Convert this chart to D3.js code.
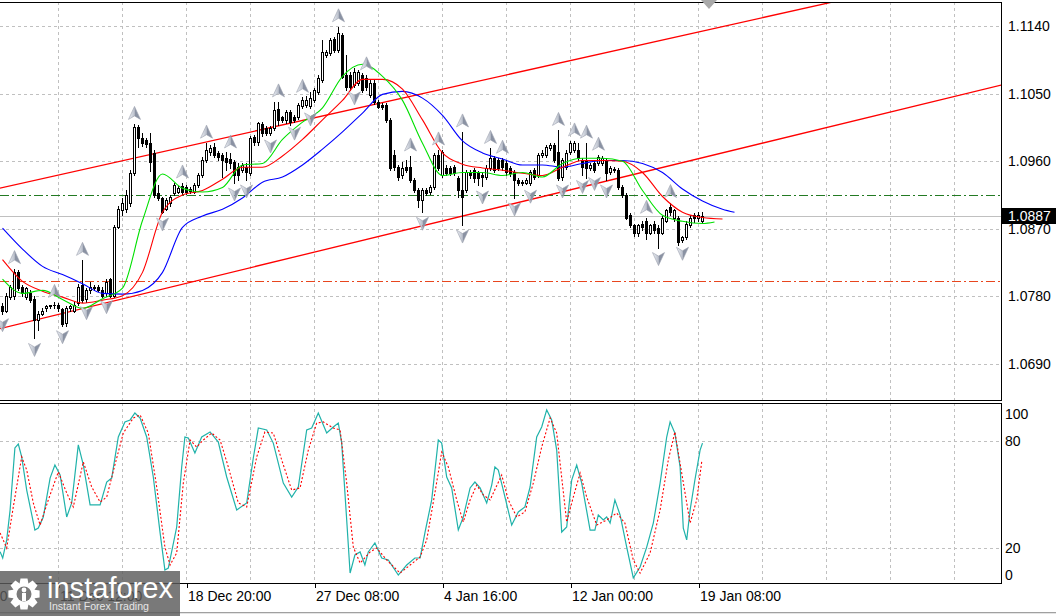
<!DOCTYPE html>
<html><head><meta charset="utf-8">
<script src="https://cdn.jsdelivr.net/npm/d3@7"></script>
<style>
html,body{margin:0;padding:0;background:#fff;overflow:hidden}
svg{display:block}
text{font-family:"Liberation Sans",Arial,sans-serif}
</style></head><body>
<svg id="c" width="1056" height="616"></svg>
<script>
// ---------- DATA ----------
const opens=[1.0767,1.0761,1.0779,1.0780,1.0812,1.0792,1.0779,1.0784,1.0777,1.0748,
1.0757,1.0764,1.0767,1.0768,1.0769,1.0763,1.0744,1.0764,1.0761,1.0771,
1.0795,1.0776,1.0788,1.0792,1.0792,1.0789,1.0784,1.0803,1.0781,1.0873,
1.0895,1.0897,1.0904,1.0944,1.1005,1.0991,1.0988,1.0984,1.0971,1.0917,
1.0911,1.0897,1.0904,1.0917,1.0919,1.0927,1.0925,1.0920,1.0919,1.0928,
1.0941,1.0961,1.0972,1.0979,1.0971,1.0968,1.0964,1.0963,1.0959,1.0952,
1.0948,1.0952,1.0944,1.0992,1.0985,1.1009,1.1004,1.0997,1.1004,1.1029,
1.1019,1.1015,1.1025,1.1019,1.1019,1.1033,1.1035,1.1033,1.1041,1.1052,
1.1068,1.1101,1.1104,1.1123,1.1108,1.1128,1.1075,1.1075,1.1061,1.1064,
1.1075,1.1071,1.1048,1.1064,1.1039,1.1035,1.1035,1.1015,1.0968,1.0952,
1.0941,1.0952,1.0952,1.0935,1.0921,1.0908,1.0921,1.0919,1.0925,1.0968,
1.0941,1.0951,1.0951,1.0952,1.0937,1.0921,1.0921,1.0945,1.0948,1.0944,
1.0941,1.0939,1.0951,1.0964,1.0961,1.0961,1.0957,1.0951,1.0945,1.0935,
1.0932,1.0931,1.0931,1.0948,1.0941,1.0968,1.0968,1.0977,1.0981,1.0972,
1.0939,1.0952,1.0972,1.0975,1.0975,1.0961,1.0961,1.0951,1.0957,1.0957,
1.0957,1.0961,1.0945,1.0949,1.0948,1.0925,1.0915,1.0888,1.0875,1.0864,
1.0877,1.0881,1.0865,1.0877,1.0871,1.0865,1.0881,1.0899,1.0884,1.0884,
1.0855,1.0859,1.0875,1.0888,1.0884,1.0881];
const highs=[1.0771,1.0784,1.0795,1.0817,1.0815,1.0795,1.0793,1.0788,1.0780,1.0761,
1.0764,1.0769,1.0769,1.0772,1.0771,1.0765,1.0767,1.0769,1.0772,1.0796,
1.0828,1.0791,1.0799,1.0795,1.0795,1.0792,1.0803,1.0805,1.0875,1.0901,
1.0911,1.0921,1.0948,1.1009,1.1008,1.0997,1.0991,1.0997,1.0975,1.0928,
1.0913,1.0911,1.0915,1.0931,1.0927,1.0931,1.0928,1.0925,1.0931,1.0944,
1.0965,1.0984,1.0981,1.0984,1.0973,1.0971,1.0972,1.0971,1.0961,1.0957,
1.0957,1.0957,1.0993,1.0995,1.1012,1.1012,1.1007,1.1007,1.1039,1.1039,
1.1020,1.1028,1.1028,1.1021,1.1037,1.1045,1.1047,1.1052,1.1057,1.1075,
1.1121,1.1108,1.1124,1.1125,1.1139,1.1131,1.1101,1.1079,1.1084,1.1081,
1.1077,1.1075,1.1068,1.1068,1.1041,1.1037,1.1037,1.1017,1.0975,1.0955,
1.0959,1.0961,1.0967,1.0937,1.0924,1.0924,1.0924,1.0928,1.0971,1.0975,
1.0975,1.0955,1.0953,1.0955,1.0940,1.0999,1.0948,1.0948,1.0951,1.0947,
1.0944,1.0955,1.0977,1.0967,1.0964,1.0964,1.0961,1.0953,1.0948,1.0937,
1.0935,1.0937,1.0948,1.0951,1.0971,1.0975,1.0981,1.0984,1.0984,1.1001,
1.0964,1.0975,1.0987,1.0987,1.0984,1.0964,1.0984,1.0957,1.0960,1.0968,
1.0967,1.0964,1.0953,1.0952,1.0951,1.0928,1.0917,1.0891,1.0877,1.0877,
1.0880,1.0884,1.0877,1.0880,1.0875,1.0887,1.0897,1.0905,1.0897,1.0887,
1.0861,1.0880,1.0888,1.0891,1.0892,1.0893];
const lows=[1.0757,1.0759,1.0776,1.0777,1.0788,1.0781,1.0776,1.0772,1.0724,1.0735,
1.0755,1.0761,1.0764,1.0765,1.0761,1.0741,1.0741,1.0761,1.0759,1.0768,
1.0772,1.0773,1.0785,1.0788,1.0787,1.0779,1.0781,1.0779,1.0779,1.0871,
1.0888,1.0892,1.0900,1.0941,1.0979,1.0980,1.0979,1.0947,1.0912,1.0908,
1.0891,1.0895,1.0901,1.0915,1.0917,1.0916,1.0916,1.0917,1.0917,1.0925,
1.0939,1.0959,1.0968,1.0965,1.0961,1.0939,1.0948,1.0951,1.0931,1.0935,
1.0945,1.0935,1.0941,1.0981,1.0981,1.0993,1.0995,1.0995,1.1001,1.1008,
1.1012,1.1011,1.1008,1.1012,1.1016,1.1031,1.1032,1.1031,1.1039,1.1049,
1.1065,1.1099,1.1101,1.1105,1.1105,1.1071,1.1055,1.1055,1.1059,1.1061,
1.1052,1.1055,1.1045,1.1036,1.1031,1.1029,1.1012,1.0948,1.0948,1.0935,
1.0937,1.0945,1.0932,1.0919,1.0899,1.0892,1.0915,1.0916,1.0923,1.0948,
1.0939,1.0941,1.0941,1.0941,1.0912,1.0875,1.0919,1.0937,1.0932,1.0928,
1.0927,1.0936,1.0948,1.0945,1.0948,1.0948,1.0941,1.0940,1.0911,1.0928,
1.0928,1.0929,1.0928,1.0936,1.0939,1.0965,1.0965,1.0975,1.0959,1.0935,
1.0935,1.0949,1.0969,1.0972,1.0961,1.0941,1.0937,1.0948,1.0945,1.0955,
1.0955,1.0935,1.0943,1.0945,1.0923,1.0912,1.0883,1.0872,1.0861,1.0861,
1.0869,1.0857,1.0863,1.0865,1.0845,1.0863,1.0879,1.0889,1.0881,1.0848,
1.0852,1.0856,1.0872,1.0879,1.0881,1.0879];
const closes=[1.0761,1.0780,1.0792,1.0813,1.0791,1.0785,1.0791,1.0775,1.0748,1.0757,
1.0761,1.0767,1.0768,1.0769,1.0764,1.0743,1.0764,1.0767,1.0769,1.0793,
1.0775,1.0788,1.0793,1.0791,1.0789,1.0781,1.0799,1.0781,1.0872,1.0896,
1.0904,1.0915,1.0944,1.1005,1.0991,1.0984,1.0983,1.0959,1.0915,1.0911,
1.0892,1.0908,1.0912,1.0928,1.0924,1.0919,1.0919,1.0923,1.0928,1.0941,
1.0961,1.0975,1.0977,1.0968,1.0965,1.0961,1.0959,1.0957,1.0941,1.0941,
1.0955,1.0945,1.0991,1.0985,1.1011,1.0997,1.0997,1.1004,1.1028,1.1015,
1.1015,1.1025,1.1012,1.1015,1.1035,1.1041,1.1041,1.1044,1.1055,1.1071,
1.1105,1.1105,1.1121,1.1108,1.1131,1.1072,1.1059,1.1059,1.1079,1.1079,
1.1055,1.1059,1.1064,1.1039,1.1032,1.1032,1.1015,1.0951,1.0952,1.0939,
1.0951,1.0948,1.0935,1.0921,1.0908,1.0921,1.0917,1.0925,1.0968,1.0951,
1.0972,1.0944,1.0944,1.0944,1.0921,1.0912,1.0945,1.0941,1.0937,1.0937,
1.0939,1.0951,1.0964,1.0948,1.0951,1.0952,1.0945,1.0944,1.0935,1.0931,
1.0931,1.0935,1.0945,1.0939,1.0968,1.0971,1.0979,1.0981,1.0961,1.0937,
1.0961,1.0971,1.0984,1.0984,1.0964,1.0952,1.0951,1.0955,1.0948,1.0965,
1.0964,1.0944,1.0951,1.0948,1.0925,1.0915,1.0885,1.0875,1.0864,1.0875,
1.0872,1.0864,1.0875,1.0868,1.0864,1.0884,1.0895,1.0892,1.0895,1.0852,
1.0859,1.0877,1.0885,1.0884,1.0888,1.0887];

// Alligator lines [bar, price]
const jawLine=[[0,1.0871],[5,1.0843],[10,1.0820],[15,1.0809],[20,1.0797],[25,1.0784],[30,1.0783],[35,1.0788],[40,1.0812],[45,1.0872],[50,1.0887],[55,1.0896],[60,1.0911],[65,1.0932],[70,1.0939],[75,1.0955],[80,1.0976],[85,1.0999],[90,1.1024],[95,1.1049],[100,1.1053],[105,1.1044],[110,1.1021],[115,1.0987],[120,1.0971],[125,1.0963],[130,1.0955],[135,1.0955],[140,1.0952],[145,1.0957],[150,1.0961],[155,1.0961],[160,1.0957],[165,1.0945],[170,1.0923],[175,1.0907],[180,1.0896],[183,1.0892]];
const teethLine=[[0,1.0829],[5,1.0800],[10,1.0787],[15,1.0779],[20,1.0771],[25,1.0775],[30,1.0781],[35,1.0812],[40,1.0892],[45,1.0915],[50,1.0921],[55,1.0936],[60,1.0952],[65,1.0952],[70,1.0967],[75,1.0989],[80,1.1015],[85,1.1041],[90,1.1069],[95,1.1069],[100,1.1056],[105,1.1015],[110,1.0971],[115,1.0956],[120,1.0951],[125,1.0948],[130,1.0944],[135,1.0941],[140,1.0952],[145,1.0961],[150,1.0961],[155,1.0960],[160,1.0945],[165,1.0913],[170,1.0892],[175,1.0885],[180,1.0883]];
const lipsLine=[[0,1.0803],[5,1.0784],[10,1.0788],[15,1.0776],[20,1.0764],[25,1.0777],[30,1.0791],[35,1.0881],[40,1.0943],[45,1.0924],[50,1.0919],[55,1.0925],[60,1.0955],[65,1.0957],[70,1.0989],[75,1.1012],[80,1.1031],[85,1.1073],[90,1.1089],[95,1.1073],[100,1.1041],[105,1.0984],[110,1.0941],[115,1.0945],[120,1.0945],[125,1.0941],[130,1.0945],[135,1.0939],[140,1.0957],[145,1.0964],[150,1.0964],[155,1.0960],[160,1.0921],[165,1.0888],[170,1.0880],[175,1.0877],[178,1.0879]];

// Trend channel anchors [bar, price]
const channelUpper=[[0,1.0925],[200,1.1163]];
const channelLower=[[0,1.0738],[200,1.0997]];
const levelGreen=1.0915, levelRed=1.0800, lastPrice=1.0887;

// Fractals (bar indices)
const upFractals=[3,13,20,33,45,51,57,69,75,84,91,102,109,115,122,125,139,143,146,149,161,167];
const downFractals=[0,8,15,21,26,40,58,61,67,73,77,88,105,115,120,128,132,140,145,148,151,164,170];

// Stochastic [bar, value]
const stochMain=[[-0.6,18.1],[0.05,14.6],[1.05,24.7],[1.9,41.4],[3.1,76],[3.95,78.2],[4.8,71],[6.05,52.5],[8.1,30.2],[8.95,31.3],[10.2,37.5],[11.9,59.2],[13.1,66.5],[14.4,60.9],[16.05,37.5],[17.3,45.3],[18.95,77.7],[20.2,66.5],[21.9,44.2],[24.4,44.2],[26.05,57],[27.3,59.2],[28.95,82.1],[30.6,90.5],[31.9,91.6],[33.1,95.5],[34.4,92.7],[36.05,82.1],[37.7,59.8],[39.4,28.6],[40.6,7.9],[41.45,9],[43.55,31.9],[44.8,65.4],[45.6,82.1],[46.45,81.5],[48.1,73.2],[49.8,82.1],[51.9,84.9],[53.95,79.3],[56.05,59.8],[58.55,41.4],[61.05,45.3],[62.7,70.4],[63.95,87.1],[66.05,86],[67.7,78.7],[70.2,56.4],[72.3,48.6],[73.95,54.2],[76.05,86],[77.3,87.1],[78.95,95.5],[81.05,84.3],[82.7,87.7],[83.95,89.9],[84.8,78.7],[86.05,35.8],[86.9,6.2],[88.1,16.3],[89.4,18],[90.6,10.7],[91.45,18],[93.1,23],[94.8,14.6],[96.45,13.5],[98.95,5.1],[101.05,10.7],[103.1,14.6],[104.4,14.6],[105.6,28.6],[107.3,47],[108.95,80.4],[109.8,78.7],[111.05,59.8],[112.3,53.7],[113.95,30.2],[115.2,37.5],[116.9,53.7],[118.1,57],[119.4,53.7],[121.05,45.3],[122.3,55.3],[123.1,65.4],[123.95,63.7],[125.2,52.5],[127.3,33],[128.95,40.3],[130.6,43.1],[131.9,54.2],[133.55,82.1],[134.8,87.7],[136.05,97.2],[137.3,91.6],[138.55,74.8],[139.8,29.1],[141.05,31.9],[142.3,58.1],[143.55,66.5],[144.8,56.4],[146.9,30.2],[148.1,30.2],[148.95,38.6],[150.2,35.8],[151.05,37.5],[151.9,34.1],[153.1,47],[154.4,38.6],[156.05,20.7],[157.7,3.5],[159.4,9.6],[161.05,20.7],[162.7,34.1],[164.4,56.4],[166.05,82.1],[166.9,90.5],[168.1,84.3],[169.4,65.4],[170.2,31.3],[171.05,24.7],[171.9,41.4],[173.1,58.1],[174.4,74.8],[175,78.7]];
const stochSignal=[[-0.6,28.6],[1.05,20.2],[2.7,43.1],[4.8,71],[6.05,63.7],[7.7,45.3],[9.4,33],[11.45,47],[13.95,62.6],[16.05,50.9],[17.7,43.1],[20.2,68.2],[22.3,54.2],[24.4,45.8],[26.05,48.6],[28.1,66.5],[30.2,84.3],[32.7,92.7],[34.4,94.4],[36.45,84.3],[38.55,54.2],[40.6,20.7],[41.9,10.7],[43.55,17.4],[45.2,56.4],[46.9,80.4],[48.55,76.5],[50.2,80.4],[52.3,84.3],[54.4,80.4],[56.45,65.4],[58.95,45.3],[61.05,43.1],[63.55,71],[65.6,84.9],[67.7,84.3],[69.8,69.3],[72.3,52.5],[74.4,53.7],[76.45,74.8],[78.55,89.9],[80.2,90.5],[82.7,87.1],[84.4,86],[86.05,56.4],[87.7,20.7],[89.4,11.8],[91.9,18],[93.55,20.2],[96.05,13.5],[99.4,6.2],[101.9,10.7],[104.4,15.2],[106.05,24.7],[108.1,50.9],[109.8,73.7],[111.45,65.4],[113.55,47],[115.2,34.7],[116.9,47],[118.55,55.3],[120.2,49.8],[121.9,47],[124.8,60.9],[126.45,47],[128.55,37.5],[130.6,40.3],[132.7,56.4],[134.8,76.5],[136.9,92.7],[138.55,84.3],[141.05,34.7],[142.7,48.6],[144.4,62],[146.05,48.6],[148.55,33],[151.05,35.8],[153.55,39.7],[155.6,34.1],[157.7,13.5],[159.4,6.2],[161.9,17.4],[164.4,41.4],[166.45,69.3],[168.1,84.9],[169.8,62],[171.9,34.1],[173.55,47],[174.8,68.2]];

// Axes
const priceTicks=[1.1140,1.1050,1.0960,1.0870,1.0780,1.0690];
const stochTicks=[100,80,20,0];
const stochGrid=[80,20];
const timeTickBars=[-18,14,46,78,110,142,174];
const timeLabels=["4 Dec 04:00","11 Dec 12:00","18 Dec 20:00","27 Dec 08:00","4 Jan 16:00","12 Jan 00:00","19 Jan 08:00"];
const gridBars=d3.range(14,240,16);

// ---------- DRAW ----------
const svg=d3.select('#c');
const PR=1001;
const x=d3.scaleLinear().domain([0,1]).range([2.5,6.5]);
const y=d3.scaleLinear().domain([1.0690,1.1140]).range([364,26]);
const ys=d3.scaleLinear().domain([0,100]).range([584.2,404.9]);
const cy=v=>Math.round(y(v))+0.5;

const defs=svg.append('defs');
defs.append('clipPath').attr('id','cm').append('rect').attr('x',0).attr('y',2.5).attr('width',PR).attr('height',398);
defs.append('clipPath').attr('id','cs').append('rect').attr('x',0).attr('y',404).attr('width',PR).attr('height',179);
const gl=defs.append('linearGradient').attr('id','ag').attr('x1','0').attr('x2','1').attr('y1','0').attr('y2','0');
gl.append('stop').attr('offset','0').attr('stop-color','#f2f4f8');
gl.append('stop').attr('offset','1').attr('stop-color','#b9bfcb');

const gm=svg.append('g').attr('clip-path','url(#cm)');
const gs=svg.append('g').attr('clip-path','url(#cs)');

// grids
gm.selectAll('.vg').data(gridBars).join('line').attr('x1',d=>x(d)).attr('x2',d=>x(d)).attr('y1',2).attr('y2',401)
  .attr('stroke','#c0c0c0').attr('stroke-dasharray','3,3').attr('shape-rendering','crispEdges');
gm.selectAll('.hg').data(priceTicks).join('line').attr('x1',0).attr('x2',PR).attr('y1',d=>cy(d)).attr('y2',d=>cy(d))
  .attr('stroke','#c0c0c0').attr('stroke-dasharray','3,3').attr('shape-rendering','crispEdges');
gs.selectAll('.vg').data(gridBars).join('line').attr('x1',d=>x(d)).attr('x2',d=>x(d)).attr('y1',403).attr('y2',584)
  .attr('stroke','#c0c0c0').attr('stroke-dasharray','3,3').attr('shape-rendering','crispEdges');
gs.selectAll('.hg').data(stochGrid).join('line').attr('x1',0).attr('x2',PR).attr('y1',d=>Math.round(ys(d))+0.5).attr('y2',d=>Math.round(ys(d))+0.5)
  .attr('stroke','#c0c0c0').attr('stroke-dasharray','3,3').attr('shape-rendering','crispEdges');

// level lines
gm.append('line').attr('x1',0).attr('x2',PR).attr('y1',cy(lastPrice)).attr('y2',cy(lastPrice)).attr('stroke','#c0c0c0').attr('shape-rendering','crispEdges');
gm.append('line').attr('x1',0).attr('x2',PR).attr('y1',cy(levelGreen)).attr('y2',cy(levelGreen)).attr('stroke','#237a23').attr('stroke-dasharray','9,3,2,3').attr('shape-rendering','crispEdges');
gm.append('line').attr('x1',0).attr('x2',PR).attr('y1',cy(levelRed)).attr('y2',cy(levelRed)).attr('stroke','#e8461e').attr('stroke-dasharray','9,3,2,3').attr('shape-rendering','crispEdges');

// channel lines (rays, extended linearly and clipped)
function ray(a){
  const [b0,p0]=a[0],[b1,p1]=a[1];
  const s=(p1-p0)/(b1-b0);
  const L=-5,R=260;
  return [[L,p0+s*(L-b0)],[R,p0+s*(R-b0)]];
}
const lineP=d3.line().x(d=>x(d[0])).y(d=>y(d[1]));
[channelUpper,channelLower].forEach(c=>{
  gm.append('path').attr('d',lineP(ray(c))).attr('fill','none').attr('stroke','#ff0000').attr('stroke-width',1.3);
});

// candles
const bars=d3.range(opens.length);
const cg=gm.append('g').attr('shape-rendering','crispEdges');
cg.selectAll('.w').data(bars).join('line').attr('x1',i=>x(i)).attr('x2',i=>x(i))
  .attr('y1',i=>cy(highs[i])-0.5).attr('y2',i=>cy(lows[i])+0.5).attr('stroke','#000');
cg.selectAll('.b').data(bars).join('rect')
  .attr('x',i=>x(i)-1).attr('width',2)
  .attr('y',i=>cy(Math.max(opens[i],closes[i])))
  .attr('height',i=>Math.max(cy(Math.min(opens[i],closes[i]))-cy(Math.max(opens[i],closes[i])),0.001))
  .attr('fill',i=>closes[i]>=opens[i]?'#fff':'#000').attr('stroke','#000');

// alligator
const lineC=d3.line().x(d=>x(d[0])).y(d=>y(d[1])).curve(d3.curveMonotoneX);
gm.append('path').attr('d',lineC(jawLine)).attr('fill','none').attr('stroke','#0000ff').attr('stroke-width',1.1);
gm.append('path').attr('d',lineC(teethLine)).attr('fill','none').attr('stroke','#ff0000').attr('stroke-width',1.1);
gm.append('path').attr('d',lineC(lipsLine)).attr('fill','none').attr('stroke','#00e000').attr('stroke-width',1.1);

// fractal arrows
function arrow(g,cx,cyv,up){
  const s=up?1:-1;
  g.append('path').attr('d',`M${cx},${cyv-7*s} L${cx-6},${cyv+6*s} L${cx},${cyv+2.5*s} Z`).attr('fill','url(#ag)');
  g.append('path').attr('d',`M${cx},${cyv-7*s} L${cx+6},${cyv+6*s} L${cx},${cyv+2.5*s} Z`).attr('fill','#8a92a3');
  g.append('path').attr('d',`M${cx},${cyv-7*s} L${cx-6},${cyv+6*s} L${cx},${cyv+2.5*s} L${cx+6},${cyv+6*s} Z`)
    .attr('fill','none').attr('stroke','#9aa0ac').attr('stroke-width',0.6);
}
const ag=gm.append('g');
upFractals.forEach(i=>arrow(ag,x(i),y(highs[i])-11,true));
downFractals.forEach(i=>arrow(ag,x(i),y(lows[i])+11,false));

// stochastic
const lineS=d3.line().x(d=>x(d[0])).y(d=>ys(d[1]));
gs.append('path').attr('d',lineS(stochMain)).attr('fill','none').attr('stroke','#20b2aa').attr('stroke-width',1.2);
gs.append('path').attr('d',lineS(stochSignal)).attr('fill','none').attr('stroke','#ff0000').attr('stroke-width',1.1).attr('stroke-dasharray','2,2');

// panel borders
const bd=svg.append('g').attr('shape-rendering','crispEdges').attr('stroke','#000').attr('fill','none');
bd.append('line').attr('x1',0).attr('x2',PR+0.5).attr('y1',2.5).attr('y2',2.5);
bd.append('line').attr('x1',0).attr('x2',PR+0.5).attr('y1',400.5).attr('y2',400.5);
bd.append('line').attr('x1',PR+0.5).attr('x2',PR+0.5).attr('y1',2.5).attr('y2',400.5);
bd.append('line').attr('x1',0).attr('x2',PR+0.5).attr('y1',403.5).attr('y2',403.5);
bd.append('line').attr('x1',0).attr('x2',PR+0.5).attr('y1',583.5).attr('y2',583.5);
bd.append('line').attr('x1',PR+0.5).attr('x2',PR+0.5).attr('y1',403.5).attr('y2',583.5);

// price axis
const pa=svg.append('g').attr('transform',`translate(${PR},0)`)
  .call(d3.axisRight(y).tickValues(priceTicks).tickFormat(d3.format('.4f')).tickSize(0).tickPadding(7));
pa.select('.domain').remove();
pa.selectAll('text').attr('font-size',14).attr('font-family','"Liberation Sans",Arial,sans-serif').attr('fill','#000');

// last price box
const ly=y(lastPrice);
svg.append('rect').attr('x',1002).attr('y',Math.round(ly)-8).attr('width',54).attr('height',16).attr('fill','#000');
svg.append('text').attr('x',1008).attr('y',ly).attr('dy','0.36em').attr('font-size',14).attr('fill','#fff').text(d3.format('.4f')(lastPrice));

// stoch axis
const sa=svg.append('g').attr('transform',`translate(${PR},0)`)
  .call(d3.axisRight(ys).tickValues(stochTicks).tickFormat(d3.format('d')).tickSize(0).tickPadding(4));
sa.select('.domain').remove();
sa.selectAll('text').attr('font-size',14).attr('font-family','"Liberation Sans",Arial,sans-serif').attr('fill','#000')
  .attr('dy',d=>d===100?'0.95em':(d===0?'-0.35em':'0.32em'));

// time axis
const ta=svg.append('g').attr('transform','translate(0,583.5)')
  .call(d3.axisBottom(x).tickValues(timeTickBars).tickFormat((d,i)=>timeLabels[i]).tickSize(4).tickPadding(4));
ta.select('.domain').remove();
ta.selectAll('line').attr('stroke','#000').attr('shape-rendering','crispEdges');
ta.selectAll('text').attr('font-size',14).attr('font-family','"Liberation Sans",Arial,sans-serif').attr('fill','#000')
  .attr('text-anchor','start').attr('x',1);

// bottom window edge
svg.append('line').attr('x1',0).attr('x2',1056).attr('y1',612.5).attr('y2',612.5).attr('stroke','#a0a0a0').attr('shape-rendering','crispEdges');
svg.append('line').attr('x1',0).attr('x2',1056).attr('y1',613.5).attr('y2',613.5).attr('stroke','#e4e4e4').attr('shape-rendering','crispEdges');

// chart shift marker
svg.append('path').attr('d','M701,0 L717,0 L709,9 Z').attr('fill','#a9a9a9');

// logo
const lg=svg.append('g');
lg.append('rect').attr('x',0).attr('y',571).attr('width',180).attr('height',45).attr('fill','#5c5c5c').attr('opacity',0.82);
const gcx=24,gcy=594;
const pts=[];
for(let k=0;k<8;k++){
  const a=k*Math.PI/4;
  const w=0.22;
  [[a-0.39,11.5],[a-w,16],[a+w,16],[a+0.39,11.5]].forEach(([t,r])=>pts.push([gcx+r*Math.cos(t),gcy+r*Math.sin(t)]));
}
lg.append('path').attr('d','M'+pts.map(p=>p.join(',')).join('L')+'Z').attr('fill','#fff');
lg.append('circle').attr('cx',gcx).attr('cy',gcy).attr('r',7.5).attr('fill','#7a7a7a');
lg.append('circle').attr('cx',gcx).attr('cy',gcy-4).attr('r',2.4).attr('fill','#fff');
lg.append('rect').attr('x',gcx-2).attr('y',gcy-1).attr('width',4).attr('height',8).attr('fill','#fff');
lg.append('text').attr('x',47).attr('y',598).attr('font-family','"DejaVu Sans",sans-serif').attr('font-size',29)
  .attr('fill','#fff').attr('textLength',126).attr('lengthAdjust','spacingAndGlyphs').text('instaforex');
lg.append('text').attr('x',49).attr('y',610).attr('font-family','"DejaVu Sans",sans-serif').attr('font-size',10)
  .attr('fill','#e6e6e6').attr('textLength',100).attr('lengthAdjust','spacingAndGlyphs').text('Instant Forex Trading');
</script>
</body></html>
